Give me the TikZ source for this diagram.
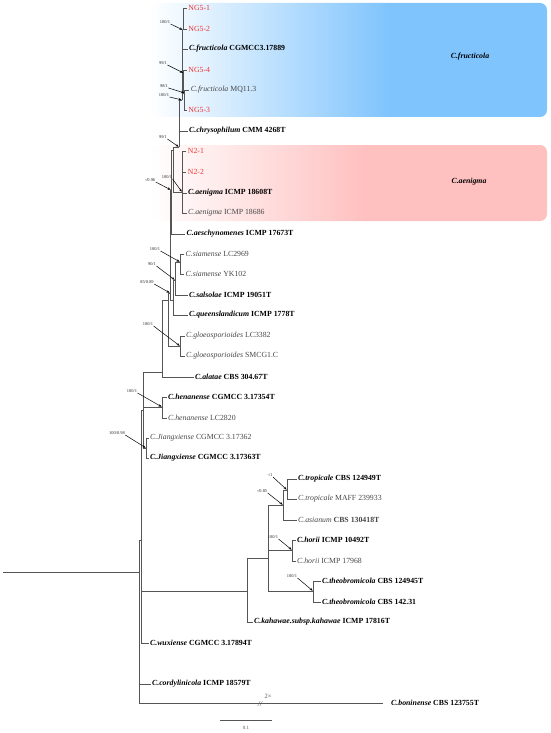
\documentclass[tikz,border=0pt]{standalone}
\usepackage{fontspec}
\setmainfont{Liberation Serif}
\usetikzlibrary{arrows.meta}
\definecolor{fructblue}{RGB}{128,196,253}
\definecolor{aenigmapink}{RGB}{255,192,192}
\definecolor{isored}{RGB}{240,50,50}
\definecolor{treeline}{RGB}{85,85,85}
\pgfdeclarehorizontalshading{fructfade}{100bp}{color(0bp)=(white); color(25bp)=(white); color(55bp)=(fructblue); color(100bp)=(fructblue)}
\pgfdeclarehorizontalshading{aenigmafade}{100bp}{color(0bp)=(white); color(25bp)=(white); color(52bp)=(aenigmapink); color(100bp)=(aenigmapink)}
\begin{document}
\begin{tikzpicture}[x=1pt,y=-1pt,
    branch/.style={draw=treeline,line width=0.6pt},
    leaf/.style={anchor=west,inner sep=1.4pt,text=black!72,font=\fontsize{7.8}{9}\selectfont},
    typeleaf/.style={leaf,text=black,font=\fontsize{7.8}{9}\selectfont\bfseries},
    isolate/.style={leaf,text=isored},
    support/.style={inner sep=0.3pt,text=black!85,font=\fontsize{4.4}{5}\selectfont},
    supparrow/.style={-{Stealth[length=3.2pt,width=2.4pt]},line width=0.5pt,shorten >=0.4pt}]
  \useasboundingbox (0,0) rectangle (550,733);

  % clade boxes
  \shade[shading=fructfade,rounded corners=7pt] (150,3) rectangle (547,117);
  \shade[shading=aenigmafade,rounded corners=7pt] (150,145) rectangle (547,221);
  \node[font=\fontsize{7.8}{9}\selectfont\bfseries\itshape] (fructlab) at (470,57) {C.fructicola};
  \node[font=\fontsize{7.8}{9}\selectfont\bfseries\itshape] (aenlab) at (469,182) {C.aenigma};

  % internal nodes
  \coordinate (base) at (3,572);
  \coordinate (R) at (139,572);
  \coordinate (N1) at (141.5,540);
  \coordinate (N2) at (143,410);
  \coordinate (J) at (146,448);
  \coordinate (Hn) at (162,407);
  \coordinate (U) at (162,372);
  \coordinate (V) at (168,300);
  \coordinate (Z) at (170,293);
  \coordinate (S1) at (173,300);
  \coordinate (S2) at (175,280);
  \coordinate (Si) at (180,262);
  \coordinate (G) at (180,346);
  \coordinate (A) at (171,190);
  \coordinate (B) at (173,150);
  \coordinate (C) at (179,147);
  \coordinate (Ae) at (182,192);
  \coordinate (Fr) at (182,100);
  \coordinate (Fa) at (183,30);
  \coordinate (Fb) at (183.5,73);
  \coordinate (Fc) at (184.5,93);
  \coordinate (K) at (247,591);
  \coordinate (T) at (268,558);
  \coordinate (TA) at (283,505);
  \coordinate (TP) at (287,490);
  \coordinate (H) at (292,550);
  \coordinate (TB) at (313,591);

  % leaves
  \node[isolate] (ng51) at (186.8,8) {NG5-1};
  \node[isolate] (ng52) at (186.8,29) {NG5-2};
  \node[typeleaf] (fru1) at (187.5,49) {\textit{C.fructicola} CGMCC3.17889};
  \node[isolate] (ng54) at (186.8,70) {NG5-4};
  \node[leaf] (fru2) at (189.3,90) {\textit{C.fructicola} MQ11.3};
  \node[isolate] (ng53) at (186.8,110) {NG5-3};
  \node[typeleaf] (chr) at (187.5,131) {\textit{C.chrysophilum} CMM 4268T};
  \node[isolate] (n21) at (186.3,151) {N2-1};
  \node[isolate] (n22) at (186.3,172) {N2-2};
  \node[typeleaf] (aen1) at (186.5,193) {\textit{C.aenigma} ICMP 18608T};
  \node[leaf] (aen2) at (186.5,213) {\textit{C.aenigma} ICMP 18686};
  \node[typeleaf] (aes) at (185,234) {\textit{C.aeschynomenes} ICMP 17673T};
  \node[leaf] (sia1) at (184,254) {\textit{C.siamense} LC2969};
  \node[leaf] (sia2) at (184,274) {\textit{C.siamense} YK102};
  \node[typeleaf] (sal) at (187.5,295) {\textit{C.salsolae} ICMP 19051T};
  \node[typeleaf] (que) at (187.5,315) {\textit{C.queenslandicum} ICMP 1778T};
  \node[leaf] (glo1) at (184.5,336) {\textit{C.gloeosporioides} LC3382};
  \node[leaf] (glo2) at (184.5,356) {\textit{C.gloeosporioides} SMCG1.C};
  \node[typeleaf] (ala) at (193.5,377) {\textit{C.alatae} CBS 304.67T};
  \node[typeleaf] (hen1) at (166.5,397) {\textit{C.henanense} CGMCC 3.17354T};
  \node[leaf] (hen2) at (166.5,418) {\textit{C.henanense} LC2820};
  \node[leaf] (jia1) at (148.5,438) {\textit{C.Jiangxiense} CGMCC 3.17362};
  \node[typeleaf] (jia2) at (148.5,458) {\textit{C.Jiangxiense} CGMCC 3.17363T};
  \node[typeleaf] (tro1) at (296.5,479) {\textit{C.tropicale} CBS 124949T};
  \node[leaf] (tro2) at (296.5,499) {\textit{C.tropicale} MAFF 239933};
  \node[leaf] (asi) at (296.5,520) {\textit{C.asianum} \textbf{CBS 130418T}};
  \node[typeleaf] (hor1) at (295.5,540) {\textit{C.horii} ICMP 10492T};
  \node[leaf] (hor2) at (295.5,561) {\textit{C.horii} ICMP 17968};
  \node[typeleaf] (the1) at (320.5,581) {\textit{C.theobromicola} CBS 124945T};
  \node[typeleaf] (the2) at (320.5,602) {\textit{C.theobromicola} CBS 142.31};
  \node[typeleaf] (kah) at (252.5,622) {\textit{C.kahawae.subsp.kahawae} ICMP 17816T};
  \node[typeleaf] (wux) at (148.5,643) {\textit{C.wuxiense} CGMCC 3.17894T};
  \node[typeleaf] (cor) at (150.5,684) {\textit{C.cordylinicola} ICMP 18579T};
  \node[typeleaf,inner xsep=8pt] (bon) at (383,703) {\textit{C.boninense} CBS 123755T};

  % branches
  \begin{scope}[branch]
    \draw (base) -- (R);
    \draw (R) |- (N1);
    \draw (R) |- (cor.west);
    \draw (R) |- (bon.west);
    \draw (N1) |- (N2);
    \draw (N1) |- (K);
    \draw (N1) |- (wux.west);
    \draw (N2) |- (U);
    \draw (N2) |- (Hn);
    \draw (N2) |- (J);
    \draw (J) |- (jia1.west);
    \draw (J) |- (jia2.west);
    \draw (Hn) |- (hen1.west);
    \draw (Hn) |- (hen2.west);
    \draw (U) |- (V);
    \draw (U) |- (ala.west);
    \draw (V) |- (Z);
    \draw (V) |- (G);
    \draw (G) |- (glo1.west);
    \draw (G) |- (glo2.west);
    \draw (Z) |- (A);
    \draw (Z) |- (S1);
    \draw (S1) |- (S2);
    \draw (S1) |- (que.west);
    \draw (S2) |- (Si);
    \draw (S2) |- (sal.west);
    \draw (Si) |- (sia1.west);
    \draw (Si) |- (sia2.west);
    \draw (A) |- (B);
    \draw (A) |- (aes.west);
    \draw (B) |- (C);
    \draw (B) |- (Ae);
    \draw (Ae) |- (n21.west);
    \draw (Ae) |- (n22.west);
    \draw (Ae) |- (aen1.west);
    \draw (Ae) |- (aen2.west);
    \draw (C) |- (Fr);
    \draw (C) |- (chr.west);
    \draw (Fr) |- (Fa);
    \draw (Fr) |- (fru1.west);
    \draw (Fr) |- (Fb);
    \draw (Fa) |- (ng51.west);
    \draw (Fa) |- (ng52.west);
    \draw (Fb) |- (ng54.west);
    \draw (Fb) |- (Fc);
    \draw (Fc) |- (fru2.west);
    \draw (Fc) |- (ng53.west);
    \draw (K) |- (T);
    \draw (K) |- (kah.west);
    \draw (T) |- (TA);
    \draw (T) |- (H);
    \draw (T) |- (TB);
    \draw (TA) |- (TP);
    \draw (TA) |- (asi.west);
    \draw (TP) |- (tro1.west);
    \draw (TP) |- (tro2.west);
    \draw (H) |- (hor1.west);
    \draw (H) |- (hor2.west);
    \draw (TB) |- (the1.west);
    \draw (TB) |- (the2.west);
  \end{scope}

  % break on the long branch
  \node[font=\fontsize{7.5}{8}\selectfont\itshape,text=treeline,inner sep=0pt] (brk) at (260,704) {//};
  \node[font=\fontsize{6.5}{7}\selectfont,text=treeline,inner sep=0pt] (twox) at (268,696.5) {2×};

  % support values
  \node[support] (sFa) at (165,22) {100/1};
  \node[support] (sFb) at (163,63) {99/1};
  \node[support] (sFc) at (164,86) {98/1};
  \node[support] (sFr) at (164,95) {100/1};
  \node[support] (sC) at (163,137) {99/1};
  \node[support] (sAe) at (167,177) {100/1};
  \node[support] (sA) at (150,180) {-/0.96};
  \node[support] (sSi) at (155,249) {100/1};
  \node[support] (sS2) at (152,264) {90/1};
  \node[support] (sZ) at (147,282) {85/0.89};
  \node[support] (sG) at (148,324) {100/1};
  \node[support] (sHn) at (132,391) {100/1};
  \node[support] (sJ) at (117,433) {100/0.98};
  \node[support] (sTP) at (270,475) {-/1};
  \node[support] (sTA) at (262,491) {-/0.85};
  \node[support] (sH) at (273,537) {100/1};
  \node[support] (sTB) at (292,576) {100/1};
  \draw[supparrow] (sFa.south east) -- (Fa);
  \draw[supparrow] (sFb.south east) -- (Fb);
  \draw[supparrow] (sFc.south east) -- (Fc);
  \draw[supparrow] (sFr.south east) -- (Fr);
  \draw[supparrow] (sC.south east) -- (C);
  \draw[supparrow] (sAe.south east) -- (Ae);
  \draw[supparrow] (sA.south east) -- (A);
  \draw[supparrow] (sSi.south east) -- (Si);
  \draw[supparrow] (sS2.south east) -- (S2);
  \draw[supparrow] (sZ.south east) -- (Z);
  \draw[supparrow] (sG.south east) -- (G);
  \draw[supparrow] (sHn.south east) -- (Hn);
  \draw[supparrow] (sJ.south east) -- (J);
  \draw[supparrow] (sTP.south east) -- (TP);
  \draw[supparrow] (sTA.south east) -- (TA);
  \draw[supparrow] (sH.south east) -- (H);
  \draw[supparrow] (sTB.south east) -- (TB);

  % scale bar
  \coordinate (sb0) at (220,720);
  \coordinate (sb1) at (272,720);
  \draw[treeline,line width=0.6pt] (sb0) -- (sb1);
  \node[font=\fontsize{5}{6}\selectfont,text=treeline] (sblab) at (246,728) {0.1};
\end{tikzpicture}
\end{document}
